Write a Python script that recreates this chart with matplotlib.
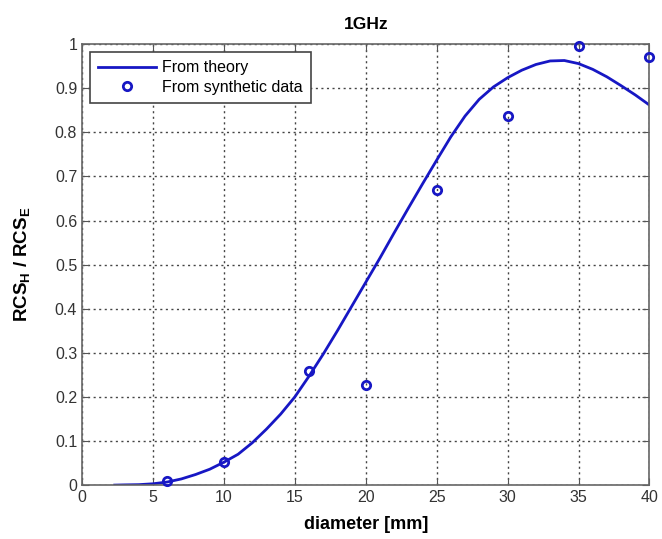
import matplotlib.pyplot as plt

plt.rcParams["font.family"] = ["Liberation Sans", "DejaVu Sans"]
plt.rcParams["mathtext.fontset"] = "custom"
plt.rcParams["mathtext.rm"] = "Liberation Sans:bold"
plt.rcParams["mathtext.bf"] = "Liberation Sans:bold"

# theoretical ratio curve
theory_d = [2.3, 3, 4, 5, 6, 7, 8, 9, 10, 11, 12, 13, 14, 15, 16, 17, 18, 19, 20,
            21, 22, 23, 24, 25, 26, 27, 28, 29, 30, 31, 32, 33, 34, 35, 36, 37,
            38, 39, 40]
theory_ratio = [0.0, 0.0005, 0.001, 0.003, 0.007, 0.014, 0.024, 0.036, 0.052,
                0.07, 0.096, 0.127, 0.161, 0.2, 0.247, 0.297, 0.35, 0.405, 0.46,
                0.515, 0.572, 0.628, 0.683, 0.737, 0.79, 0.837, 0.875, 0.903,
                0.924, 0.941, 0.954, 0.962, 0.963, 0.956, 0.943, 0.926, 0.906,
                0.885, 0.862]

# ratios estimated from synthetic data
synth_d = [6, 10, 16, 20, 25, 30, 35, 40]
synth_ratio = [0.01, 0.053, 0.259, 0.228, 0.67, 0.837, 0.995, 0.971]

BLUE = "#1717c4"

fig = plt.figure(figsize=(6.62, 5.39), dpi=100)
ax = fig.add_axes([0.124, 0.1, 0.857, 0.818])

ax.plot(theory_d, theory_ratio, color=BLUE, lw=2, label="From theory")
ax.plot(synth_d, synth_ratio, ls="none", marker="o", ms=6, mfc="none",
        mec=BLUE, mew=2, label="From synthetic data", clip_on=False, zorder=5)

ax.set_xlim(0, 40)
ax.set_ylim(0, 1)
ax.set_xticks(range(0, 41, 5))
ax.set_yticks([i / 10 for i in range(11)])
ax.set_yticklabels(["0", "0.1", "0.2", "0.3", "0.4", "0.5", "0.6", "0.7",
                    "0.8", "0.9", "1"])
ax.tick_params(direction="in", top=True, right=True, length=5,
               labelsize=11.5, colors="#555555", labelcolor="#333333")
for s in ax.spines.values():
    s.set_color("#666666")
    s.set_linewidth(1.2)

ax.grid(True, ls=(0, (1.5, 2.5)), color="#444444", lw=1)

ax.set_title("1GHz", fontsize=12.5, fontweight="bold", pad=11)
ax.set_xlabel("diameter [mm]", fontsize=13, fontweight="bold", labelpad=8)
ax.set_ylabel(r"RCS$_\mathrm{H}$ / RCS$_\mathrm{E}$", fontsize=13.5,
              fontweight="bold", labelpad=16)

leg = ax.legend(loc="upper left", bbox_to_anchor=(0.014, 0.982), fontsize=11.5,
                fancybox=False, framealpha=1, edgecolor="#444444",
                borderpad=0.5, handlelength=3.6, handletextpad=0.4,
                labelspacing=0.3, borderaxespad=0)
leg.get_frame().set_linewidth(1.2)

fig.savefig("out.png", dpi=100)
